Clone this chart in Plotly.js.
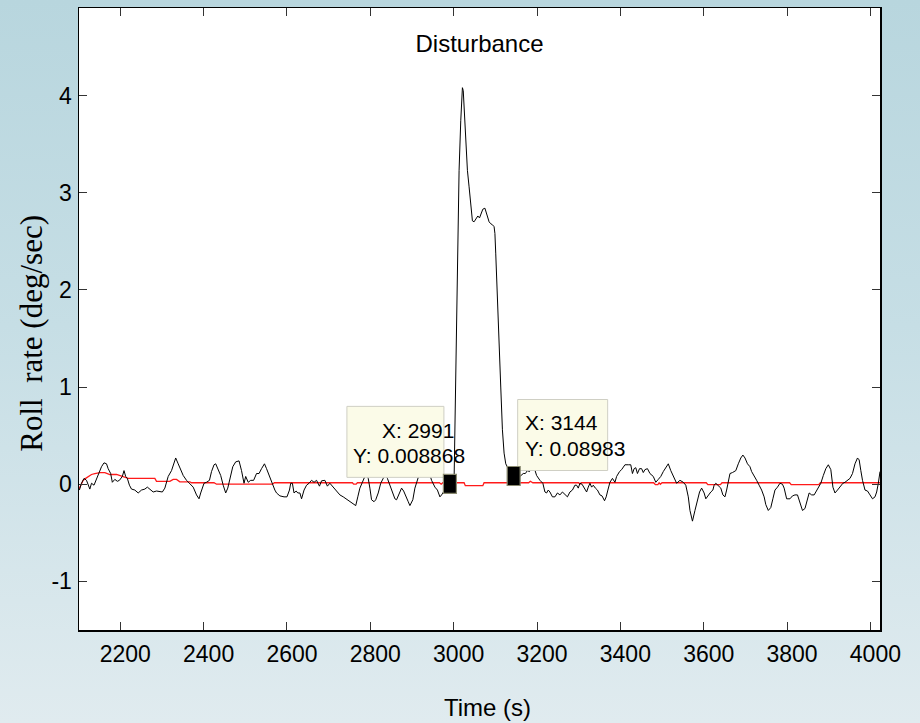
<!DOCTYPE html>
<html>
<head>
<meta charset="utf-8">
<script src="https://cdn.plot.ly/plotly-3.0.1.min.js"></script>
<style>
html, body { margin:0; padding:0; width:920px; height:723px; overflow:hidden;
  background: linear-gradient(to bottom, #b8d6de 0%, #c6dee5 45%, #e0ebef 100%); }
#chart { width:920px; height:723px; }
</style>
</head>
<body>
<div id="chart"></div>
<script>
// ---- data ----
const timeBlack = [2102,2107,2113,2119,2127,2131,2137,2147,2155,2161,2167,2171,2177,2181,2187,2193,2198,2205,2209,2213,2217,2222,2227,2235,2243,2251,2259,2265,2272,2279,2287,2295,2301,2307,2315,2323,2330,2333,2339,2345,2351,2359,2367,2375,2383,2389,2393,2397,2401,2407,2414,2419,2425,2429,2435,2441,2447,2453,2458,2463,2470,2477,2485,2491,2497,2501,2507,2513,2520,2527,2533,2539,2546,2551,2558,2563,2571,2575,2583,2593,2600,2606,2609,2613,2617,2622,2626,2631,2635,2641,2647,2653,2659,2665,2671,2678,2683,2691,2697,2703,2711,2719,2727,2735,2745,2753,2759,2765,2770,2775,2781,2787,2791,2795,2799,2803,2809,2813,2819,2825,2831,2836,2841,2847,2853,2859,2863,2870,2875,2880,2885,2891,2895,2902,2907,2913,2918,2925,2932,2937,2942,2947,2955,2961,2967,2971,2975,2983,2991,2997,3001,3005,3009,3013,3017,3021,3023,3026,3029,3033,3037,3042,3045,3049,3053,3058,3062,3066,3070,3075,3078,3081,3085,3089,3093,3097,3099,3101,3105,3109,3113,3117,3121,3125,3129,3136,3144,3152,3159,3167,3172,3177,3182,3187,3191,3195,3199,3207,3214,3219,3223,3227,3231,3237,3243,3249,3255,3261,3267,3273,3279,3285,3291,3295,3299,3303,3308,3313,3319,3323,3327,3331,3335,3340,3345,3351,3356,3362,3366,3370,3375,3381,3387,3391,3398,3403,3411,3419,3425,3429,3433,3437,3441,3446,3451,3455,3459,3465,3471,3479,3485,3491,3497,3503,3511,3515,3521,3527,3535,3543,3551,3557,3563,3567,3571,3573,3579,3585,3590,3595,3601,3605,3611,3617,3622,3625,3629,3635,3641,3646,3651,3655,3659,3663,3669,3677,3683,3689,3694,3699,3705,3711,3715,3721,3727,3733,3739,3745,3749,3755,3761,3766,3771,3777,3783,3789,3793,3799,3807,3813,3819,3825,3831,3837,3843,3848,3853,3859,3865,3869,3875,3881,3887,3893,3899,3905,3910,3915,3921,3927,3934,3939,3945,3951,3957,3963,3969,3973,3977,3981,3987,3993,3999,4005,4011,4015,4019,4023];
const rollRate = [-0.06,0.01,0.06,0.04,-0.05,0.01,-0.01,0.09,0.18,0.22,0.21,0.16,0.11,0.02,0.05,0.03,0.04,0.08,0.14,0.08,0.06,-0.01,-0.05,-0.06,-0.09,-0.06,-0.05,-0.03,-0.06,-0.08,-0.07,-0.08,-0.08,-0.04,0.08,0.14,0.23,0.27,0.21,0.14,0.09,0.04,0.01,-0.03,-0.11,-0.15,-0.09,-0.04,0.01,0.02,0.04,0.13,0.20,0.21,0.15,0.09,-0.01,-0.09,-0.04,0.06,0.18,0.23,0.24,0.14,0.01,0.08,0.02,0.04,0.04,0.11,0.11,0.16,0.21,0.16,0.08,0.01,-0.06,-0.09,-0.12,-0.13,-0.13,-0.06,0.01,0.01,-0.09,-0.07,-0.09,-0.09,-0.15,-0.06,-0.01,0.01,0.04,0.02,0.04,-0.02,0.035,0.04,-0.02,0.01,-0.03,-0.06,-0.11,-0.13,-0.16,-0.18,-0.20,-0.22,-0.13,-0.04,0.02,0.08,0.10,0.06,-0.04,-0.16,-0.18,-0.16,-0.09,0.01,0.06,0.09,0.06,-0.01,-0.06,-0.15,-0.16,-0.08,-0.04,-0.07,-0.13,-0.18,-0.22,-0.16,-0.04,0.04,0.11,0.15,0.16,0.13,0.11,0.04,-0.03,-0.06,-0.13,-0.11,-0.08,-0.03,0.008868,0.02,0.04,1.17,2.37,3.23,3.74,4.08,4.05,3.81,3.57,3.23,3.06,2.82,2.71,2.70,2.73,2.76,2.74,2.78,2.83,2.84,2.80,2.75,2.70,2.68,2.67,2.65,2.58,2.37,1.86,1.34,1.00,0.56,0.32,0.21,0.18,0.12,0.08983,0.07,0.08,0.11,0.11,0.14,0.13,0.16,0.20,0.15,0.09,0.04,0.01,-0.08,-0.09,-0.06,-0.08,-0.13,-0.13,-0.09,-0.11,-0.08,-0.11,-0.13,-0.08,-0.06,-0.01,-0.01,-0.04,0.01,0.00,-0.04,-0.08,-0.03,0.01,-0.03,-0.01,-0.04,-0.06,-0.11,-0.12,-0.17,-0.13,-0.06,0.02,0.06,0.02,0.08,0.13,0.15,0.20,0.20,0.20,0.11,0.16,0.17,0.11,0.16,0.16,0.12,0.15,0.16,0.11,0.08,0.02,0.05,0.08,0.13,0.18,0.21,0.14,0.08,0.01,0.04,0.02,-0.01,-0.13,-0.27,-0.35,-0.38,-0.27,-0.16,-0.08,-0.04,-0.09,-0.15,-0.11,-0.08,-0.06,-0.01,0.01,-0.02,-0.04,-0.11,-0.13,-0.06,0.01,0.11,0.12,0.14,0.21,0.27,0.30,0.27,0.21,0.18,0.13,0.09,0.04,-0.01,-0.06,-0.13,-0.21,-0.27,-0.24,-0.15,-0.06,-0.03,0.01,0.00,-0.04,-0.15,-0.15,-0.12,-0.11,-0.11,-0.18,-0.27,-0.25,-0.16,-0.09,-0.11,-0.11,-0.08,-0.04,0.01,0.09,0.16,0.20,0.15,-0.03,-0.09,-0.06,-0.03,0.01,0.02,0.04,0.06,0.11,0.21,0.27,0.25,0.14,0.04,-0.06,-0.07,-0.11,-0.15,-0.13,-0.08,0.01,0.13];

const timeRed = [2101,2106,2111,2117,2123,2131,2139,2151,2163,2175,2191,2207,2219,2283,2287,2319,2327,2335,2343,2367,2371,2425,2431,2565,2570,2757,2760,2766,2769,2966,2970,2974,3025,3028,3070,3073,3180,3184,3190,3300,3303,3306,3480,3484,3490,3493,3496,3500,3606,3610,3640,3644,3806,3810,3876,3880,4023];
const refRate = [-0.05,0.0,0.04,0.06,0.08,0.10,0.11,0.12,0.12,0.10,0.10,0.08,0.06,0.06,0.03,0.03,0.05,0.05,0.025,0.025,0.015,0.015,0.0,0.0,0.015,0.015,0.0,0.0,0.015,0.015,0.0,0.015,0.015,-0.015,-0.015,0.015,0.015,0.03,0.015,0.015,0.0,0.015,0.015,-0.005,-0.005,0.015,0.0,0.015,0.015,-0.005,-0.005,0.015,0.015,-0.005,-0.005,0.015,0.015];

const tipX = [2991, 3144];
const tipY = [0.008868, 0.08983];
const tipLabelX = ['X: 2991', 'X: 3144'];
const tipLabelY = ['Y: 0.008868', 'Y: 0.08983'];

const xTicks = [2200,2400,2600,2800,3000,3200,3400,3600,3800,4000];
const yTicks = [-1,0,1,2,3,4];

const titleText = 'Disturbance';
const xTitleText = 'Time (s)';
const yTitleText = 'Roll\u00a0\u00a0rate (deg/sec)';

// ---- figure ----
const FONT = 'Arial, "Liberation Sans", sans-serif';
const SERIF = '"Times New Roman", "Liberation Serif", serif';

const traces = [
  { x: timeRed, y: refRate, mode: 'lines', line: {color: '#ff1a1a', width: 1.3}, hoverinfo: 'skip' },
  { x: timeBlack, y: rollRate, mode: 'lines', line: {color: '#000000', width: 1}, hoverinfo: 'skip' }
];

// datatip boxes and markers anchored at the data points (pixel-sized)
const boxOffsets = [ {x0:-103, x1:-6, y0:6, y1:77}, {x0:4, x1:94, y0:5, y1:76} ];
const shapes = [];
const annotations = [];
for (let i = 0; i < tipX.length; i++) {
  const b = boxOffsets[i];
  shapes.push({ type:'rect', layer:'above', xref:'x', yref:'y', xsizemode:'pixel', ysizemode:'pixel',
    xanchor: tipX[i], yanchor: tipY[i], x0:b.x0, x1:b.x1, y0:b.y0, y1:b.y1,
    fillcolor:'#fbfbe8', line:{color:'#cfcfc4', width:1} });
  shapes.push({ type:'rect', layer:'above', xref:'x', yref:'y', xsizemode:'pixel', ysizemode:'pixel',
    xanchor: tipX[i], yanchor: tipY[i], x0:-6.5, x1:6.5, y0:-10, y1:9,
    fillcolor:'#000000', line:{color:'#8a8a70', width:1.2} });
}
const lblShift = [ {x1:-70, y1:53, x2:-99, y2:28}, {x1:9, y1:53, x2:9, y2:27} ];
for (let i = 0; i < tipX.length; i++) {
  const s = lblShift[i];
  annotations.push({ x: tipX[i], y: tipY[i], xref:'x', yref:'y', text: tipLabelX[i], showarrow:false,
    xanchor:'left', yanchor:'middle', xshift:s.x1, yshift:s.y1, font:{family:FONT, size:21, color:'#000'} });
  annotations.push({ x: tipX[i], y: tipY[i], xref:'x', yref:'y', text: tipLabelY[i], showarrow:false,
    xanchor:'left', yanchor:'middle', xshift:s.x2, yshift:s.y2, font:{family:FONT, size:21, color:'#000'} });
}
// axis titles placed as annotations for exact placement
annotations.push({ xref:'paper', yref:'paper', x:-0.059, y:0.4775, xanchor:'center', yanchor:'middle',
  text: yTitleText, textangle:-90, showarrow:false, font:{family:SERIF, size:31, color:'#000'} });
annotations.push({ xref:'paper', yref:'paper', x:0.510, y:-0.1249, xanchor:'center', yanchor:'middle',
  text: xTitleText, showarrow:false, font:{family:FONT, size:24, color:'#000'} });

const axisCommon = {
  ticks:'inside', ticklen:8, tickwidth:1, tickcolor:'#333',
  showline:true, linecolor:'#000', linewidth:1.5, mirror:'ticks',
  showgrid:false, zeroline:false,
  tickfont:{family:FONT, size:23, color:'#000'}
};

const layout = {
  width:920, height:723,
  paper_bgcolor:'rgba(0,0,0,0)', plot_bgcolor:'#ffffff',
  margin:{l:79, r:40, t:8, b:93, pad:0},
  showlegend:false,
  title:{ text:titleText, font:{family:FONT, size:24, color:'#000'},
    xref:'paper', x:0.5, xanchor:'center', yref:'container', y:1-44/723, yanchor:'middle' },
  xaxis: Object.assign({}, axisCommon, {
    range:[2101, 4023], tickmode:'array', tickvals:xTicks, ticktext:xTicks.map(String),
    ticklabelstandoff:3, ticklabelshift:5,
    title:{ text:'' }
  }),
  yaxis: Object.assign({}, axisCommon, {
    range:[-1.5, 4.9], tickmode:'array', tickvals:yTicks, ticktext:yTicks.map(String),
    ticklabelstandoff:1,
    title:{ text:'' }
  }),
  shapes: shapes,
  annotations: annotations
};

Plotly.newPlot('chart', traces, layout, {staticPlot:true, displayModeBar:false});
</script>
</body>
</html>
